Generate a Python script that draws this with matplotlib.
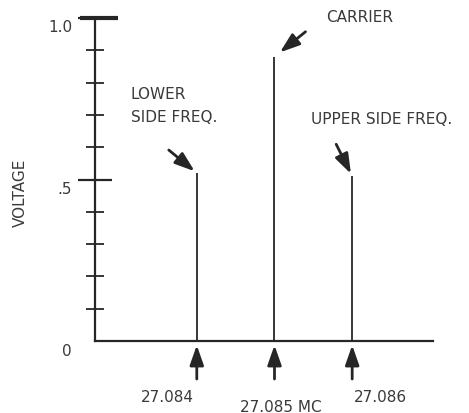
import matplotlib.pyplot as plt
from matplotlib.transforms import blended_transform_factory

# spectrum lines of an AM signal
freqs = [27.084, 27.085, 27.086]
amps = [0.52, 0.88, 0.51]
freq_labels = ["27.084", "27.085 MC", "27.086"]
line_names = ["LOWER\nSIDE FREQ.", "CARRIER", "UPPER SIDE FREQ."]

ytick_major = [0.5, 1.0]
ytick_minor = [0.1, 0.2, 0.3, 0.4, 0.6, 0.7, 0.8, 0.9]
ytick_labels = {0.0: "0", 0.5: ".5", 1.0: "1.0"}

ink = '#262626'
txt = '#3a3a3a'
plt.rcParams['font.family'] = ['DejaVu Sans']

fig = plt.figure(figsize=(4.69, 4.13), dpi=100)
ax = fig.add_axes([95 / 469, 72 / 413, 338 / 469, 323 / 413])

ax.vlines(freqs, 0, amps, color=ink, linewidth=1.3)

ax.set_xlim(27.08269, 27.08704)
ax.set_ylim(0, 1.0)
for side in ('top', 'right'):
    ax.spines[side].set_visible(False)
for side in ('left', 'bottom'):
    ax.spines[side].set_color(ink)
    ax.spines[side].set_linewidth(1.6)

ax.set_xticks([])
ax.set_yticks(ytick_major)
ax.set_yticks(ytick_minor, minor=True)
ax.set_yticklabels([])
ax.tick_params(axis='y', which='major', direction='inout', length=24,
               width=1.6, color=ink)
ax.tick_params(axis='y', which='minor', direction='inout', length=13,
               width=1.3, color=ink)

# heavy bar on top of the scale
tr = blended_transform_factory(ax.transAxes, ax.transData)
ax.plot([-15 / 338, 23 / 338], [1.0, 1.0], transform=tr, color=ink,
        linewidth=3, clip_on=False, solid_capstyle='butt')

# value labels, set a bit below their ticks
for val, lab in ytick_labels.items():
    ax.annotate(lab, xy=(0, val), xycoords=tr, xytext=(-23, -10),
                textcoords='offset pixels', ha='right', va='center',
                fontsize=11, color=txt)

ax.text(-75 / 338, 0.46, "VOLTAGE", transform=ax.transAxes, rotation=90,
        ha='center', va='center', fontsize=11, color=txt)

arrow = dict(arrowstyle='-|>,head_length=1.2,head_width=0.42',
             mutation_scale=10, color=ink, linewidth=2, shrinkA=0)

# frequency arrows and labels under the baseline
label_dx = [-29, 6, 28]
label_dy = [-56, -66, -56]
for f, lab, dx, dy in zip(freqs, freq_labels, label_dx, label_dy):
    ax.annotate('', xy=(f, 0), xytext=(0, -38), textcoords='offset pixels',
                arrowprops=dict(arrow, shrinkB=3), annotation_clip=False)
    ax.annotate(lab, xy=(f, 0), xytext=(dx, dy), textcoords='offset pixels',
                ha='center', va='center', fontsize=11, color=txt,
                annotation_clip=False)

# name labels with arrows pointing at the tops of the lines
arrow_start = [(-28, 23), (31, 25), (-16, 32)]
arrow_shrink = [2, 5, 2]
name_pos = [(-66, 67), (85, 39), (-41, 57)]
name_ha = ['left', 'center', 'left']
for f, a, name, st, sh, pos, ha in zip(freqs, amps, line_names, arrow_start,
                                       arrow_shrink, name_pos, name_ha):
    ax.annotate('', xy=(f, a), xytext=st, textcoords='offset pixels',
                arrowprops=dict(arrow, shrinkB=sh), annotation_clip=False)
    ax.annotate(name, xy=(f, a), xytext=pos, textcoords='offset pixels',
                ha=ha, va='center', fontsize=11, color=txt,
                linespacing=1.6, annotation_clip=False)

fig.savefig('out.png', dpi=100)
